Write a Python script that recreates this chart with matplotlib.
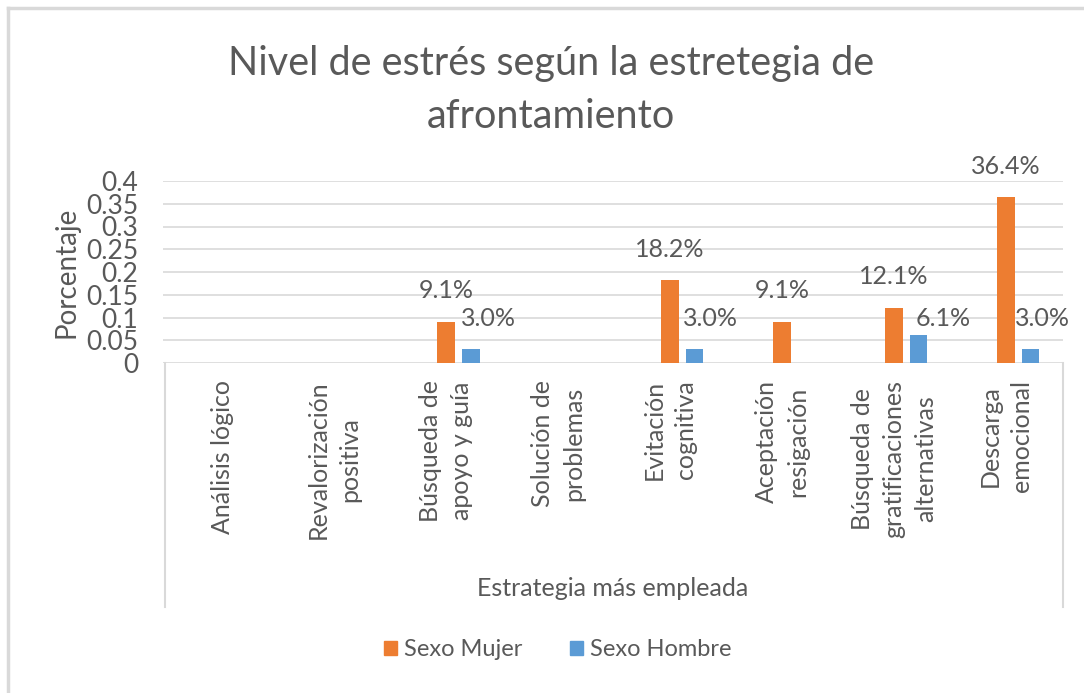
import matplotlib
matplotlib.use("Agg")
import matplotlib.pyplot as plt
import matplotlib.transforms as mtransforms
from matplotlib.lines import Line2D
from matplotlib.patches import Patch
import numpy as np

plt.rcParams['font.family'] = ['Lato', 'DejaVu Sans']

categories = ["Análisis lógico", "Revalorización\npositiva", "Búsqueda de\napoyo y guía",
              "Solución de\nproblemas", "Evitación\ncognitiva", "Aceptación\nresigación",
              "Búsqueda de\ngratificaciones\nalternativas", "Descarga\nemocional"]
mujer = [0.0, 0.0, 0.091, 0.0, 0.182, 0.091, 0.121, 0.364]
hombre = [0.0, 0.0, 0.030, 0.0, 0.030, 0.0, 0.061, 0.030]
series_names = ["Sexo Mujer", "Sexo Hombre"]
yticks = [0, 0.05, 0.1, 0.15, 0.2, 0.25, 0.3, 0.35, 0.4]
ytick_labels = ["0", "0.05", "0.1", "0.15", "0.2", "0.25", "0.3", "0.35", "0.4"]
title = "Nivel de estrés según la estretegia de\nafrontamiento"
xlabel = "Estrategia más empleada"
ylabel = "Porcentaje"

W, H = 1084, 693
TXT = '#595959'
GRID = '#D9D9D9'
ORANGE = '#ED7D31'
BLUE = '#5B9BD5'

fig = plt.figure(figsize=(W / 100, H / 100), dpi=100)
ax = fig.add_axes([163 / W, 1 - 363 / H, 900 / W, 182 / H])

x = np.arange(len(categories))
bw = 0.16
off = 0.219
ax.bar(x, mujer, width=bw, color=ORANGE, zorder=3)
ax.bar(x + off, hombre, width=bw, color=BLUE, zorder=3)

ax.set_xlim(-0.527, 7.509)
ax.set_ylim(0, 0.4)
ax.set_yticks(yticks)
ax.set_yticklabels(ytick_labels)
ax.tick_params(axis='y', length=0, pad=18, labelsize=19, labelcolor=TXT)
ax.set_xticks([])
for s in ax.spines.values():
    s.set_visible(False)
for t in yticks:
    ax.axhline(t, color=GRID, lw=1.2, zorder=1)

# data labels
for i, v in enumerate(mujer):
    if v > 0:
        ax.annotate(f"{v*100:.1f}%", (x[i], v), xytext=(0, 31), textcoords='offset pixels',
                    ha='center', va='center', fontsize=18, color=TXT)
blue_offsets = [(0, 0), (0, 0), (18, 31), (0, 0), (16, 31), (0, 0), (25, 17), (12, 31)]
for i, v in enumerate(hombre):
    if v > 0:
        ax.annotate(f"{v*100:.1f}%", (x[i] + off, v), xytext=blue_offsets[i], textcoords='offset pixels',
                    ha='center', va='center', fontsize=18, color=TXT)

# category labels
trans = mtransforms.blended_transform_factory(ax.transData, ax.transAxes)
for i, c in enumerate(categories):
    ax.text(x[i], (363 - 380) / 182, c, transform=trans, rotation=90, va='top', ha='center',
            multialignment='center', fontsize=18, color=TXT, linespacing=1.45)

# category box lines
for px in (165, 1063):
    fig.add_artist(Line2D([px / W, px / W], [1 - 363 / H, 1 - 607 / H], color=GRID, lw=1.5,
                          transform=fig.transFigure))

# outer frame (left & top)
fig.add_artist(Line2D([8 / W, 8 / W], [0, 1 - 8 / H], color=GRID, lw=2.5, transform=fig.transFigure))
fig.add_artist(Line2D([8 / W, 1], [1 - 8 / H, 1 - 8 / H], color=GRID, lw=2.5, transform=fig.transFigure))

fig.text(551 / W, 1 - 90 / H, title, ha='center', va='center', fontsize=28.5, color=TXT,
         fontweight='normal', linespacing=1.55)
fig.text(613 / W, 1 - 588 / H, xlabel, ha='center', va='center', fontsize=18, color=TXT)
fig.text(66 / W, 1 - 272 / H, ylabel, ha='center', va='center', rotation=90, fontsize=20, color=TXT)

handles = [Patch(color=ORANGE), Patch(color=BLUE)]
fig.legend(handles, series_names, loc='center', bbox_to_anchor=(558 / W, 1 - 650 / H), ncol=2,
           frameon=False, handlelength=0.55, handleheight=0.55, handletextpad=0.3, columnspacing=2.0,
           fontsize=17, labelcolor=TXT)

fig.savefig("out.png", dpi=100, facecolor='white')
